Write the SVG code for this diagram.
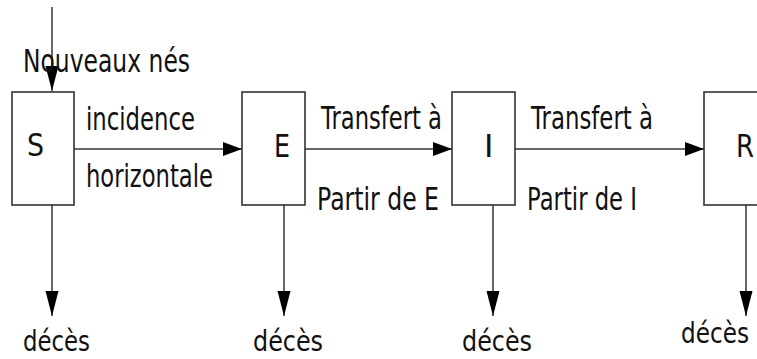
<svg xmlns="http://www.w3.org/2000/svg" width="757" height="359" viewBox="0 0 757 359">
<style>
.box{fill:#fff;stroke:#333;stroke-width:1.6}
.ln{fill:none;stroke:#333;stroke-width:1.5}
text{font-family:"DejaVu Sans","Liberation Sans",sans-serif;font-size:32px;fill:#111}
.d{font-size:29px}
</style>
<defs>
<marker id="ah" markerUnits="userSpaceOnUse" markerWidth="20" markerHeight="16" refX="19" refY="7" orient="auto" viewBox="0 0 20 14">
<path d="M0,0 L19,7 L0,14 z" fill="#000"/>
</marker>
<marker id="av" markerUnits="userSpaceOnUse" markerWidth="26" markerHeight="14" refX="25" refY="6.5" orient="auto" viewBox="0 0 26 13">
<path d="M0,0 L25,6.5 L0,13 z" fill="#000"/>
</marker>
</defs>
<g id="connectors">
<line class="ln" x1="52" y1="7" x2="52" y2="91" marker-end="url(#av)"/>
<line class="ln" x1="74" y1="149" x2="242" y2="149" marker-end="url(#ah)"/>
<line class="ln" x1="305" y1="149" x2="452" y2="149" marker-end="url(#ah)"/>
<line class="ln" x1="515" y1="149" x2="704" y2="149" marker-end="url(#ah)"/>
<line class="ln" x1="52" y1="205" x2="52" y2="316" marker-end="url(#av)"/>
<line class="ln" x1="284" y1="205" x2="284" y2="316" marker-end="url(#av)"/>
<line class="ln" x1="493" y1="205" x2="493" y2="316" marker-end="url(#av)"/>
<line class="ln" x1="746" y1="205" x2="746" y2="316" marker-end="url(#av)"/>
</g>
<g id="labels">
<text x="23" y="72" textLength="167" lengthAdjust="spacingAndGlyphs">Nouveaux nés</text>
<text x="86" y="130" textLength="109" lengthAdjust="spacingAndGlyphs">incidence</text>
<text x="86" y="187" textLength="127" lengthAdjust="spacingAndGlyphs">horizontale</text>
<text x="321" y="129" textLength="121" lengthAdjust="spacingAndGlyphs">Transfert à</text>
<text x="317" y="210" textLength="122" lengthAdjust="spacingAndGlyphs">Partir de E</text>
<text x="531" y="129" textLength="122" lengthAdjust="spacingAndGlyphs">Transfert à</text>
<text x="527" y="210" textLength="110" lengthAdjust="spacingAndGlyphs">Partir de I</text>
<text class="d" x="23" y="351" textLength="67" lengthAdjust="spacingAndGlyphs">décès</text>
<text class="d" x="253" y="351" textLength="70" lengthAdjust="spacingAndGlyphs">décès</text>
<text class="d" x="462" y="351" textLength="70" lengthAdjust="spacingAndGlyphs">décès</text>
<text class="d" x="681" y="343" textLength="68" lengthAdjust="spacingAndGlyphs">décès</text>
</g>
<g id="node-S">
<rect class="box" x="12" y="92" width="62" height="113"/>
<text x="27" y="156" textLength="17" lengthAdjust="spacingAndGlyphs">S</text>
</g>
<g id="node-E">
<rect class="box" x="242" y="92" width="63" height="113"/>
<text x="274" y="157" textLength="16" lengthAdjust="spacingAndGlyphs">E</text>
</g>
<g id="node-I">
<rect class="box" x="452" y="92" width="63" height="113"/>
<text x="484" y="157">I</text>
</g>
<g id="node-R">
<rect class="box" x="704" y="92" width="70" height="113"/>
<text x="736" y="157" textLength="18" lengthAdjust="spacingAndGlyphs">R</text>
</g>
</svg>
